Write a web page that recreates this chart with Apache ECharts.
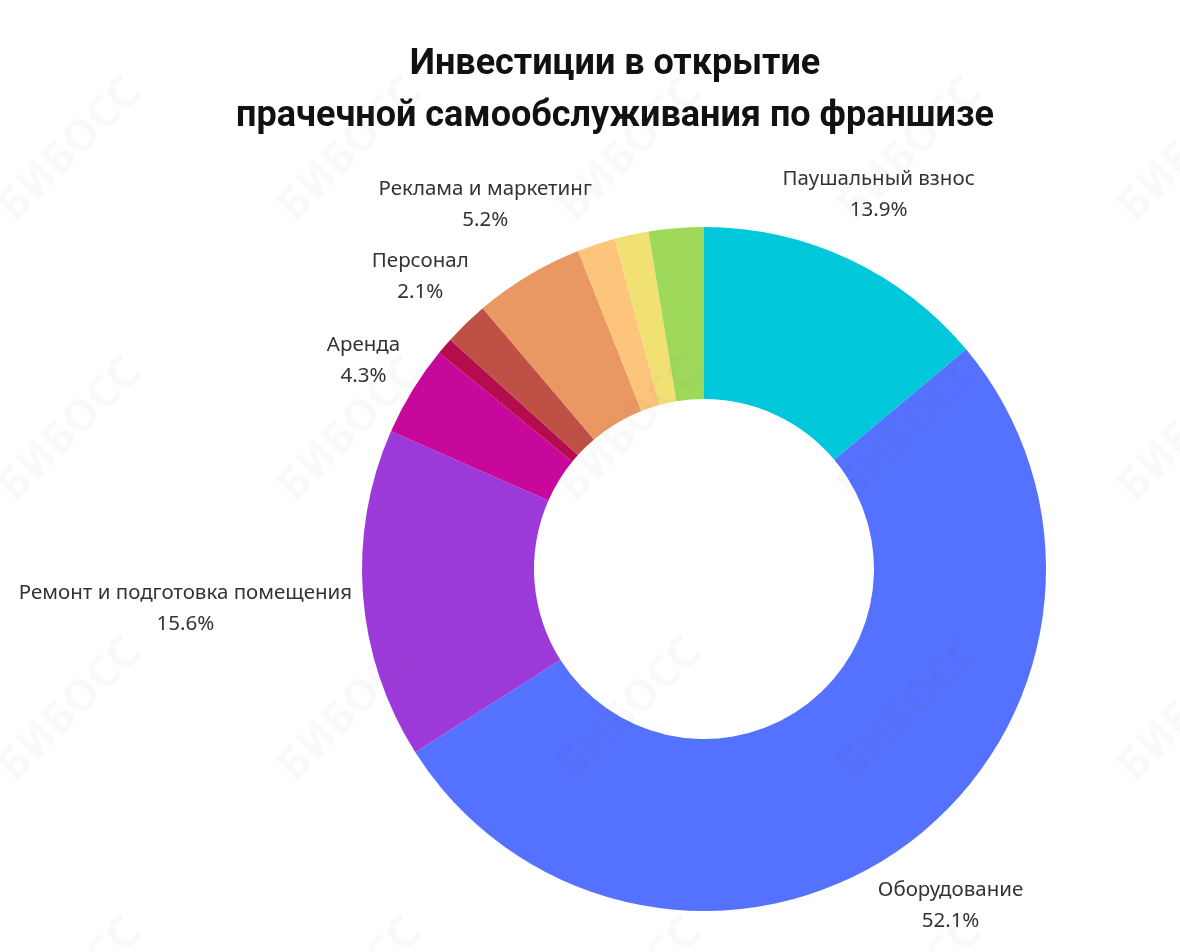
<!DOCTYPE html>
<html>
<head>
<meta charset="utf-8">
<script src="https://cdn.jsdelivr.net/npm/echarts@6/dist/echarts.min.js"></script>
<style>html,body{margin:0;padding:0;background:#fff}#c{width:1180px;height:952px}</style>
</head>
<body>
<div id="c"></div>
<script>
const titleLines = ['Инвестиции в открытие', 'прачечной самообслуживания по франшизе'];
const categories = ['Паушальный взнос', 'Оборудование', 'Ремонт и подготовка помещения', 'Аренда', 'Регистрация бизнеса', 'Персонал', 'Реклама и маркетинг', 'Вывеска', 'Расходные материалы', 'Прочие расходы'];
const values = [13.9, 52.1, 15.6, 4.3, 0.8, 2.1, 5.2, 1.8, 1.6, 2.6];
const showLabel = [true, true, true, true, false, true, true, false, false, false];
const colors = ['#00C8DA', '#5471FF', '#9B3AD9', '#C7089B', '#B50C4E', '#BF5046', '#EA9862', '#FDC47B', '#F1E173', '#9FD95B'];

const CX = 704, CY = 569, R_IN = 170, R_OUT = 342, GAP = 10;
const total = values.reduce((a, b) => a + b, 0);
const midAngles = [];
let acc = 0;
values.forEach(v => { midAngles.push((acc + v / 2) / total * 2 * Math.PI); acc += v; });

const chart = echarts.init(document.getElementById('c'), null, {renderer: 'canvas'});

const watermarks = [];
const wx = [20, 300, 580, 860, 1140];
const wy = [150, 430, 710, 990];
wy.forEach(y => wx.forEach(x => {
  watermarks.push({
    type: 'text', x: x + 50, y: y, rotation: Math.PI / 4, silent: true, z: 100,
    style: {text: 'БИБОСС', fill: 'rgba(120,120,120,0.045)', font: 'bold 44px "Noto Sans"', align: 'center', verticalAlign: 'middle'}
  });
}));

chart.setOption({
  backgroundColor: '#ffffff',
  animation: false,
  graphic: [
    {type: 'text', x: 615, y: 65, z: 10, style: {text: titleLines[0], font: 'bold 36px Roboto', fill: '#111111', align: 'center', verticalAlign: 'middle'}},
    {type: 'text', x: 615, y: 117, z: 10, style: {text: titleLines[1], font: 'bold 36px Roboto', fill: '#111111', align: 'center', verticalAlign: 'middle'}}
  ].concat(watermarks),
  series: [{
    type: 'pie',
    center: [CX, CY],
    radius: [R_IN, R_OUT],
    startAngle: 90,
    clockwise: true,
    avoidLabelOverlap: false,
    emphasis: {disabled: true},
    itemStyle: {borderWidth: 0},
    label: {
      show: true,
      position: 'outside',
      formatter: p => p.name + '\n' + p.value.toFixed(1) + '%',
      fontFamily: 'Noto Sans',
      fontSize: 20.5,
      lineHeight: 31,
      color: '#333333',
      align: 'center'
    },
    labelLine: {show: false},
    labelLayout: function (p) {
      const th = midAngles[p.dataIndex];
      const sx = Math.sin(th), sy = -Math.cos(th);
      const w = p.labelRect.width, h = p.labelRect.height;
      let lo = R_OUT, hi = R_OUT + 500;
      for (let k = 0; k < 60; k++) {
        const D = (lo + hi) / 2;
        const nx = Math.max(0, Math.abs(D * sx) - w / 2);
        const ny = Math.max(0, Math.abs(D * sy) - h / 2);
        if (Math.hypot(nx, ny) < R_OUT + GAP) lo = D; else hi = D;
      }
      const D = (lo + hi) / 2;
      return {x: CX + D * sx, y: CY + D * sy, align: 'center', verticalAlign: 'middle'};
    },
    data: categories.map((n, i) => ({
      name: n, value: values[i],
      itemStyle: {color: colors[i]},
      label: {show: showLabel[i]}
    }))
  }]
});
</script>
</body>
</html>
